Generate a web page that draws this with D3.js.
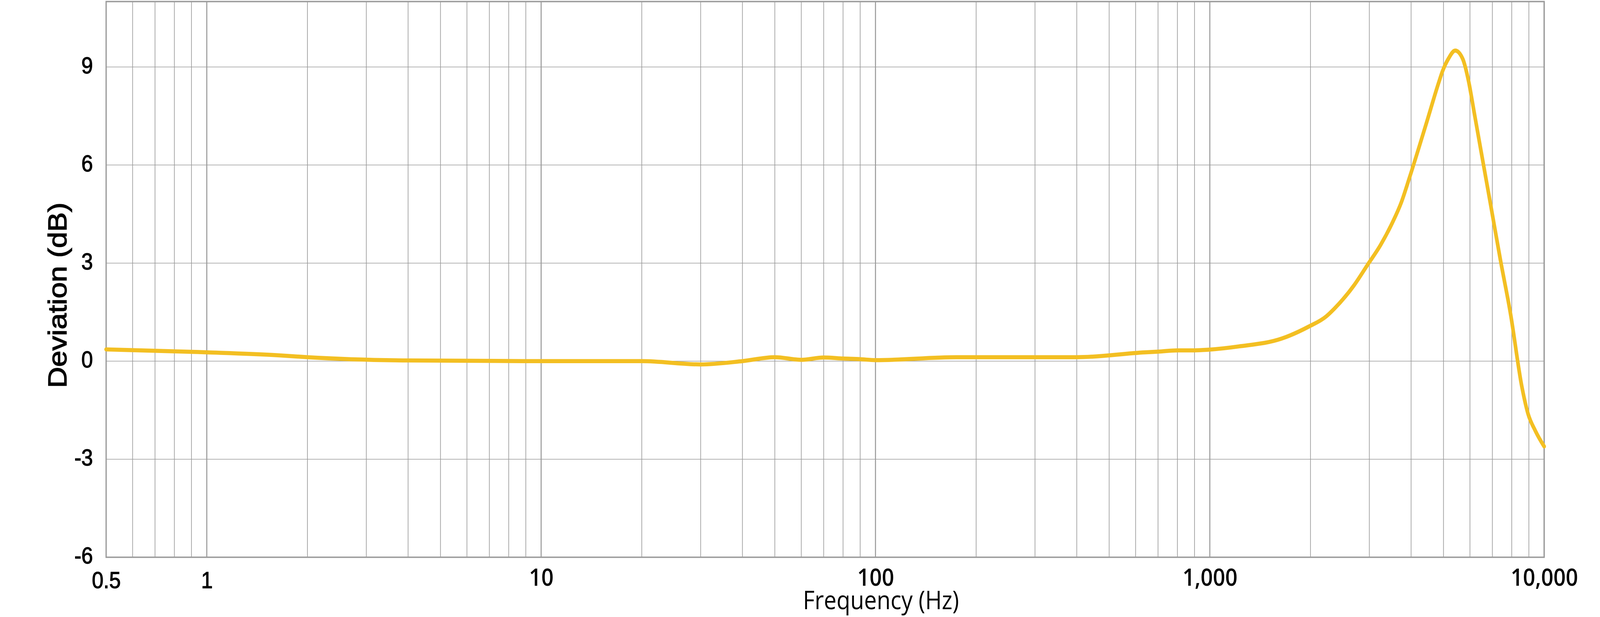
<!DOCTYPE html>
<html>
<head>
<meta charset="utf-8">
<script src="https://cdn.jsdelivr.net/npm/d3@7"></script>
<style>
  html, body { margin: 0; padding: 0; background: #ffffff; width: 100%; height: 100%; overflow: hidden; }
  svg { display: block; width: 100vw; height: 100vh; }
</style>
</head>
<body>
<svg id="chart" viewBox="0 0 4613 1580" preserveAspectRatio="none"></svg>
<script>
// ---- data ----
const frequencies = [0.5, 1, 1.63, 2, 4, 10, 20, 30, 40, 50, 60, 70, 80, 90, 100, 175, 200, 400, 640, 700, 800, 900, 990, 1220, 1640, 1971, 2230, 2355, 2700, 2965, 3240, 3510, 3740, 3949, 4450, 4830, 4966, 5170, 5420, 5705, 5941, 6173, 6476, 6907, 7401, 7932, 8583, 8937, 9420, 10000];
const deviationDb = [0.36, 0.27, 0.18, 0.12, 0.02, 0.0, 0.0, -0.1, 0.0, 0.12, 0.04, 0.11, 0.08, 0.06, 0.03, 0.12, 0.12, 0.12, 0.27, 0.29, 0.33, 0.33, 0.35, 0.45, 0.69, 1.05, 1.37, 1.6, 2.32, 2.95, 3.55, 4.22, 4.86, 5.59, 7.3, 8.5, 8.87, 9.25, 9.5, 9.25, 8.57, 7.62, 6.42, 4.82, 3.09, 1.45, -0.8, -1.59, -2.14, -2.61];
const yTickValues = [-6, -3, 0, 3, 6, 9];
const yTickLabels = ["-6", "-3", "0", "3", "6", "9"];
const xTickValues = [0.5, 1, 10, 100, 1000, 10000];
const xTickLabels = ["0.5", "1", "10", "100", "1,000", "10,000"];
const xTitle = "Frequency (Hz)";
const yTitle = "Deviation (dB)";

// ---- layout ----
const svg = d3.select("#chart");
svg.append("rect").attr("width", 4613).attr("height", 1580).attr("fill", "#ffffff");

const x = d3.scaleLog().domain([0.5, 10000]).range([306, 4452]);
const y = d3.scaleLinear().domain([-6, 11]).range([1427, 4]);

const gridColor = "#9b9b9b";

// vertical grid lines (log minor + decade major)
const grid = svg.append("g");
x.ticks().forEach(v => {
  const major = Math.abs(Math.log10(v) - Math.round(Math.log10(v))) < 1e-9;
  grid.append("line")
    .attr("x1", x(v)).attr("x2", x(v))
    .attr("y1", y(11)).attr("y2", y(-6))
    .attr("stroke", gridColor)
    .attr("stroke-width", major ? 3 : 1.9);
});
// horizontal grid lines
yTickValues.forEach(v => {
  grid.append("line")
    .attr("x1", x(0.5)).attr("x2", x(10000))
    .attr("y1", y(v)).attr("y2", y(v))
    .attr("stroke", gridColor)
    .attr("stroke-width", 1.5);
});
// frame
grid.append("rect")
  .attr("x", x(0.5)).attr("y", y(11))
  .attr("width", x(10000) - x(0.5)).attr("height", y(-6) - y(11))
  .attr("fill", "none").attr("stroke", gridColor).attr("stroke-width", 3.6);

// y axis labels
const yAxis = svg.append("g")
  .attr("transform", `translate(${x(0.5)},0)`)
  .call(d3.axisLeft(y).tickValues(yTickValues).tickSize(0).tickPadding(38)
    .tickFormat((d, i) => yTickLabels[i]));
yAxis.select(".domain").remove();
yAxis.selectAll("text")
  .attr("dy", "0.26em")
  .attr("font-family", "'Liberation Sans', Arial, sans-serif")
  .attr("font-size", 60)
  .attr("fill", "#000")
  .attr("stroke", "#000").attr("stroke-width", 1.5);

// x axis labels
const xAxis = svg.append("g")
  .attr("transform", `translate(0,${y(-6)})`)
  .call(d3.axisBottom(x).tickValues(xTickValues).tickSize(0)
    .tickFormat((d, i) => xTickLabels[i]));
xAxis.select(".domain").remove();
xAxis.selectAll("text")
  .attr("dy", 0)
  .attr("y", d => d < 10 ? 79 : 73)
  .attr("font-family", d => d < 10 ? "'Liberation Sans', Arial, sans-serif" : "'Open Sans', sans-serif")
  .attr("font-weight", d => d < 10 ? 400 : 600)
  .attr("font-size", d => d < 10 ? 60 : 62)
  .attr("stroke", d => d < 10 ? "#000" : "none")
  .attr("stroke-width", 1.5)
  .attr("fill", "#000");

// axis titles
svg.append("text")
  .attr("x", 2540).attr("y", 1560)
  .attr("text-anchor", "middle")
  .attr("font-family", "'Open Sans', sans-serif")
  .attr("font-size", 65)
  .attr("fill", "#000")
  .text(xTitle);

svg.append("text")
  .attr("transform", "translate(192,756) rotate(-90)")
  .attr("text-anchor", "middle")
  .attr("font-family", "'Liberation Sans', Arial, sans-serif")
  .attr("font-size", 75)
  .attr("fill", "#000")
  .attr("stroke", "#000").attr("stroke-width", 1.8)
  .text(yTitle);

// response curve
const data = frequencies.map((f, i) => ({ f, v: deviationDb[i] }));
const line = d3.line()
  .x(d => x(d.f))
  .y(d => y(d.v))
  .curve(d3.curveMonotoneX);
svg.append("path")
  .datum(data)
  .attr("d", line)
  .attr("fill", "none")
  .attr("stroke", "#F3BF22")
  .attr("stroke-width", 10.5)
  .attr("stroke-linecap", "round")
  .attr("stroke-linejoin", "round");
</script>
</body>
</html>
